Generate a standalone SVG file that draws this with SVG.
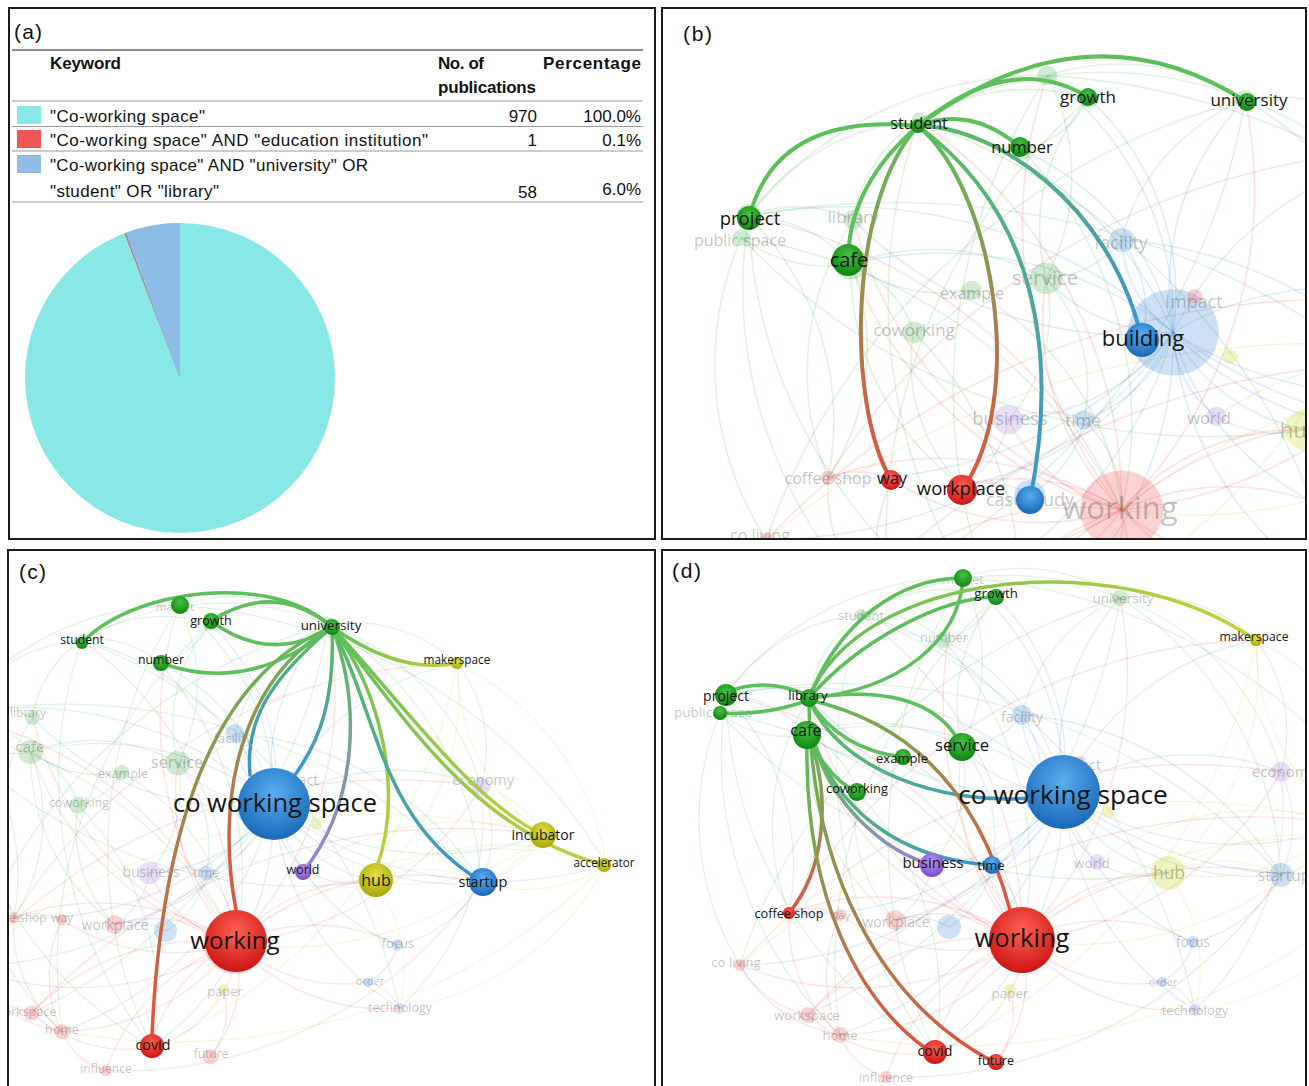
<svg xmlns="http://www.w3.org/2000/svg" width="1309" height="1086" viewBox="0 0 1309 1086">
<style>
.pl{font-family:"Liberation Sans",Arial,sans-serif;font-size:21px;fill:#111}
.tb{font-family:"Liberation Sans",Arial,sans-serif;font-size:17px;fill:#111}
.th{font-weight:bold}
.num{text-anchor:end}
.rule{stroke:#9a9a9a;stroke-width:1.2}
.frame{fill:none;stroke:#1a1a1a;stroke-width:2}
.fe path{fill:none;stroke-width:1.3;stroke-opacity:.17}
.eg{stroke:#4caf50}.er{stroke:#ef5350}.eb{stroke:#4a90d9}.ey{stroke:#c6cf30}.ep{stroke:#a57fdc}
.ng{fill:#4caf50;fill-opacity:.26}.nr{fill:#ef5350;fill-opacity:.26}.nb{fill:#4a90d9;fill-opacity:.28}.ny{fill:#cddc39;fill-opacity:.3}.np{fill:#a57fdc;fill-opacity:.26}
.lab{font-family:"Open Sans","DejaVu Sans",sans-serif;fill:#141414;text-anchor:middle}
.flab{font-family:"Open Sans","DejaVu Sans",sans-serif;fill:#444;fill-opacity:.33;text-anchor:middle}
.hl path{fill:none;stroke-linecap:round}
.sg{stroke:#5cbf5c}
</style>
<defs>
  <clipPath id="clipB"><rect x="663" y="9" width="642" height="529"/></clipPath>
  <clipPath id="clipC"><rect x="9" y="551" width="645" height="535"/></clipPath>
  <clipPath id="clipD"><rect x="663" y="551" width="642" height="535"/></clipPath>

  <!-- node shading -->
  <radialGradient id="rg" cx="50%" cy="35%" r="65%"><stop offset="0" stop-color="#45c245"/><stop offset="1" stop-color="#0e850e"/></radialGradient>
  <radialGradient id="rr" cx="50%" cy="35%" r="65%"><stop offset="0" stop-color="#ff6252"/><stop offset="1" stop-color="#cc1414"/></radialGradient>
  <radialGradient id="rb" cx="50%" cy="35%" r="65%"><stop offset="0" stop-color="#5aaef0"/><stop offset="1" stop-color="#1868b8"/></radialGradient>
  <radialGradient id="ry" cx="50%" cy="35%" r="65%"><stop offset="0" stop-color="#e0e040"/><stop offset="1" stop-color="#a6a60e"/></radialGradient>
  <radialGradient id="rp" cx="50%" cy="35%" r="65%"><stop offset="0" stop-color="#b892f0"/><stop offset="1" stop-color="#7a4cc8"/></radialGradient>

  <!-- two-colour link shading -->
  <linearGradient id="gGR"><stop offset="0" stop-color="#5cbf5c"/><stop offset="1" stop-color="#e2503f"/></linearGradient>
  <linearGradient id="gGB"><stop offset="0" stop-color="#5cbf5c"/><stop offset="1" stop-color="#3d92d2"/></linearGradient>
  <linearGradient id="gGY"><stop offset="0" stop-color="#5cbf5c"/><stop offset="1" stop-color="#c8cf3a"/></linearGradient>
  <linearGradient id="gGP"><stop offset="0" stop-color="#5cbf5c"/><stop offset="1" stop-color="#9b7ddb"/></linearGradient>

  <linearGradient id="bWay" href="#gGR" gradientUnits="userSpaceOnUse" x1="918" y1="126" x2="891" y2="480"/>
  <linearGradient id="bWp" href="#gGR" gradientUnits="userSpaceOnUse" x1="918" y1="126" x2="962" y2="490"/>
  <linearGradient id="bCs" href="#gGB" gradientUnits="userSpaceOnUse" x1="918" y1="126" x2="1030" y2="500"/>
  <linearGradient id="bBu" href="#gGB" gradientUnits="userSpaceOnUse" x1="918" y1="126" x2="1142" y2="340"/>

  <linearGradient id="cMs" href="#gGY" gradientUnits="userSpaceOnUse" x1="332" y1="627" x2="457" y2="663"/>
  <linearGradient id="cCw1" href="#gGB" gradientUnits="userSpaceOnUse" x1="332" y1="627" x2="250" y2="775"/>
  <linearGradient id="cCw2" href="#gGB" gradientUnits="userSpaceOnUse" x1="332" y1="627" x2="295" y2="775"/>
  <linearGradient id="cCv" href="#gGR" gradientUnits="userSpaceOnUse" x1="332" y1="627" x2="152" y2="1035"/>
  <linearGradient id="cWk" href="#gGR" gradientUnits="userSpaceOnUse" x1="332" y1="627" x2="236" y2="910"/>
  <linearGradient id="cWo" href="#gGP" gradientUnits="userSpaceOnUse" x1="332" y1="627" x2="303" y2="872"/>
  <linearGradient id="cHu" href="#gGY" gradientUnits="userSpaceOnUse" x1="332" y1="627" x2="376" y2="870"/>
  <linearGradient id="cSu" href="#gGB" gradientUnits="userSpaceOnUse" x1="332" y1="627" x2="482" y2="882"/>
  <linearGradient id="cIn" href="#gGY" gradientUnits="userSpaceOnUse" x1="332" y1="627" x2="543" y2="835"/>
  <linearGradient id="cAc" href="#gGY" gradientUnits="userSpaceOnUse" x1="332" y1="627" x2="604" y2="865"/>

  <linearGradient id="dMs" href="#gGY" gradientUnits="userSpaceOnUse" x1="809" y1="698" x2="1255" y2="640"/>
  <linearGradient id="dCw" href="#gGB" gradientUnits="userSpaceOnUse" x1="809" y1="700" x2="1030" y2="798"/>
  <linearGradient id="dWk" href="#gGR" gradientUnits="userSpaceOnUse" x1="809" y1="700" x2="1010" y2="910"/>
  <linearGradient id="dTi" href="#gGB" gradientUnits="userSpaceOnUse" x1="815" y1="745" x2="992" y2="865"/>
  <linearGradient id="dBs" href="#gGP" gradientUnits="userSpaceOnUse" x1="815" y1="745" x2="932" y2="865"/>
  <linearGradient id="dCf" href="#gGR" gradientUnits="userSpaceOnUse" x1="812" y1="745" x2="789" y2="913"/>
  <linearGradient id="dCv" href="#gGR" gradientUnits="userSpaceOnUse" x1="807" y1="745" x2="925" y2="1048"/>
  <linearGradient id="dFu" href="#gGR" gradientUnits="userSpaceOnUse" x1="809" y1="700" x2="990" y2="1060"/>

  <!-- dimmed keyword network (shared by the three map views) -->
  <g id="net">
    <g class="fe">
      <path class="eb" d="M1063 792A300 300 0 0 0 861 615"/>
      <path class="eb" d="M1063 792A260 260 0 0 0 963 578"/>
      <path class="eb" d="M1063 792A230 230 0 0 0 996 597"/>
      <path class="eb" d="M1063 792A230 230 0 0 1 1120 598"/>
      <path class="eb" d="M1063 792A220 220 0 0 0 943 640"/>
      <path class="eb" d="M1063 792A380 380 0 0 0 726 695"/>
      <path class="eb" d="M1063 792A300 300 0 0 1 809 698"/>
      <path class="eb" d="M1063 792A290 290 0 0 0 807 735"/>
      <path class="eb" d="M1063 792A130 130 0 0 1 962 747"/>
      <path class="eb" d="M1063 792A100 100 0 0 1 1022 715"/>
      <path class="eb" d="M1063 792A120 120 0 0 1 992 865"/>
      <path class="eb" d="M1063 792A260 260 0 0 0 1281 875"/>
      <path class="eb" d="M1063 792A150 150 0 0 0 1168 873"/>
      <path class="eb" d="M1063 792A310 310 0 0 0 1346 824"/>
      <path class="eb" d="M1063 792A240 240 0 0 1 1281 772"/>
      <path class="eb" d="M1063 792A170 170 0 0 1 932 865"/>
      <path class="eb" d="M1063 792A90 90 0 0 0 1097 862"/>
      <path class="eb" d="M1063 792A330 330 0 0 1 789 913"/>
      <path class="eb" d="M1063 792A240 240 0 0 1 895 920"/>
      <path class="eb" d="M1063 792A320 320 0 0 1 935 1052"/>
      <path class="eb" d="M1063 792A360 360 0 0 1 840 1035"/>
      <path class="eb" d="M1063 792A220 220 0 0 0 1193 942"/>
      <path class="eb" d="M1063 792A280 280 0 0 0 1195 1010"/>
      <path class="eb" d="M1063 792A270 270 0 0 1 1256 640"/>
      <path class="eb" d="M1063 792A380 380 0 0 0 1413 856"/>
      <path class="eb" d="M1063 792A400 400 0 0 1 740 965"/>
      <path class="er" d="M1022 940A330 330 0 0 1 807 735"/>
      <path class="er" d="M1022 940A260 260 0 0 0 789 913"/>
      <path class="er" d="M1022 940A210 210 0 0 1 840 915"/>
      <path class="er" d="M1022 940A150 150 0 0 0 895 920"/>
      <path class="er" d="M1022 940A310 310 0 0 1 740 965"/>
      <path class="er" d="M1022 940A250 250 0 0 0 808 1015"/>
      <path class="er" d="M1022 940A230 230 0 0 1 840 1035"/>
      <path class="er" d="M1022 940A160 160 0 0 0 935 1052"/>
      <path class="er" d="M1022 940A140 140 0 0 1 996 1062"/>
      <path class="er" d="M1022 940A220 220 0 0 0 886 1077"/>
      <path class="er" d="M1022 940A140 140 0 0 1 932 865"/>
      <path class="er" d="M1022 940A100 100 0 0 0 992 865"/>
      <path class="er" d="M1022 940A70 70 0 0 1 1010 990"/>
      <path class="er" d="M1022 940A180 180 0 0 1 1168 873"/>
      <path class="er" d="M1022 940A290 290 0 0 1 1281 875"/>
      <path class="er" d="M1022 940A230 230 0 0 1 962 747"/>
      <path class="er" d="M1022 940A420 420 0 0 0 726 695"/>
      <path class="er" d="M1022 940A350 350 0 0 1 809 698"/>
      <path class="er" d="M1022 940A170 170 0 0 0 1162 982"/>
      <path class="er" d="M1022 940A210 210 0 0 0 1195 1010"/>
      <path class="er" d="M1022 940A190 190 0 0 1 1193 942"/>
      <path class="er" d="M1022 940A390 390 0 0 0 1120 598"/>
      <path class="er" d="M1022 940A340 340 0 0 0 1281 772"/>
      <path class="er" d="M1022 940A400 400 0 0 0 861 615"/>
      <path class="er" d="M1022 940A400 400 0 0 1 963 578"/>
      <path class="eg" d="M726 695A110 110 0 0 1 807 735"/>
      <path class="eg" d="M720 713A110 110 0 0 0 807 735"/>
      <path class="eg" d="M809 698A120 120 0 0 1 861 615"/>
      <path class="eg" d="M807 735A180 180 0 0 1 962 747"/>
      <path class="eg" d="M807 735A120 120 0 0 0 903 757"/>
      <path class="eg" d="M726 695A180 180 0 0 1 861 615"/>
      <path class="eg" d="M963 578A290 290 0 0 0 726 695"/>
      <path class="eg" d="M996 597A80 80 0 0 1 943 640"/>
      <path class="eg" d="M861 615A100 100 0 0 1 943 640"/>
      <path class="eg" d="M1120 598A160 160 0 0 1 1256 640"/>
      <path class="eg" d="M1120 598A350 350 0 0 1 1281 875"/>
      <path class="eg" d="M1120 598A260 260 0 0 1 1281 772"/>
      <path class="eg" d="M857 792A300 300 0 0 1 935 1052"/>
      <path class="eg" d="M903 757A240 240 0 0 1 1022 940"/>
      <path class="eg" d="M809 698A240 240 0 0 0 789 913"/>
      <path class="eg" d="M962 747A140 140 0 0 1 992 865"/>
      <path class="eg" d="M857 792A150 150 0 0 0 895 920"/>
      <path class="eg" d="M726 695A600 600 0 0 1 1281 875"/>
      <path class="eg" d="M720 713A500 500 0 0 0 1168 873"/>
      <path class="eg" d="M861 615A540 540 0 0 1 1195 1010"/>
      <path class="eg" d="M963 578A560 560 0 0 1 1413 856"/>
      <path class="eg" d="M726 695A430 430 0 0 0 935 1052"/>
      <path class="eg" d="M1120 598A560 560 0 0 0 740 965"/>
      <path class="eg" d="M807 735A90 90 0 0 1 857 792"/>
      <path class="eg" d="M807 735A230 230 0 0 0 895 920"/>
      <path class="eg" d="M807 735A200 200 0 0 1 789 913"/>
      <path class="eg" d="M809 698A100 100 0 0 0 726 695"/>
      <path class="eg" d="M861 615A160 160 0 0 1 996 597"/>
      <path class="eg" d="M861 615A290 290 0 0 1 1120 598"/>
      <path class="eg" d="M963 578A180 180 0 0 1 1120 598"/>
      <path class="eg" d="M962 747A80 80 0 0 0 1022 715"/>
      <path class="eg" d="M962 747A140 140 0 0 1 932 865"/>
      <path class="eg" d="M903 757A70 70 0 0 1 857 792"/>
      <path class="eg" d="M726 695A250 250 0 0 1 789 913"/>
      <path class="eg" d="M720 713A280 280 0 0 0 740 965"/>
      <path class="eg" d="M726 695A390 390 0 0 0 840 1035"/>
      <path class="eg" d="M963 578A190 190 0 0 1 962 747"/>
      <path class="eg" d="M996 597A170 170 0 0 0 962 747"/>
      <path class="eg" d="M943 640A340 340 0 0 1 1022 940"/>
      <path class="eg" d="M861 615A470 470 0 0 0 935 1052"/>
      <path class="eg" d="M720 713A410 410 0 0 1 1022 940"/>
      <path class="eg" d="M963 578A500 500 0 0 0 935 1052"/>
      <path class="eg" d="M996 597A500 500 0 0 0 840 1035"/>
      <path class="eg" d="M1120 598A560 560 0 0 1 808 1015"/>
      <path class="eg" d="M1120 598A170 170 0 0 0 1022 715"/>
      <path class="eb" d="M1022 715A100 100 0 0 1 1038 798"/>
      <path class="eb" d="M992 865A90 90 0 0 1 949 927"/>
      <path class="eb" d="M1193 942A130 130 0 0 0 1281 875"/>
      <path class="eb" d="M949 927A70 70 0 0 0 895 920"/>
      <path class="ep" d="M932 865A70 70 0 0 1 992 865"/>
      <path class="ep" d="M1097 862A90 90 0 0 0 1168 873"/>
      <path class="ep" d="M1281 772A120 120 0 0 1 1281 875"/>
      <path class="ep" d="M1281 772A150 150 0 0 0 1256 640"/>
      <path class="ep" d="M1195 1010A50 50 0 0 0 1162 982"/>
      <path class="er" d="M789 913A150 150 0 0 0 840 1035"/>
      <path class="er" d="M740 965A140 140 0 0 0 840 1035"/>
      <path class="er" d="M808 1015A150 150 0 0 0 935 1052"/>
      <path class="er" d="M740 965A600 600 0 0 1 1281 772"/>
      <path class="er" d="M789 913A560 560 0 0 1 1256 640"/>
      <path class="er" d="M808 1015A600 600 0 0 1 1346 824"/>
      <path class="er" d="M886 1077A460 460 0 0 0 1281 875"/>
      <path class="er" d="M1010 990A120 120 0 0 1 935 1052"/>
      <path class="er" d="M996 1062A80 80 0 0 0 1010 990"/>
      <path class="er" d="M886 1077A70 70 0 0 1 840 1035"/>
      <path class="er" d="M740 965A100 100 0 0 0 808 1015"/>
      <path class="er" d="M789 913A60 60 0 0 1 840 915"/>
      <path class="er" d="M840 915A140 140 0 0 0 840 1035"/>
      <path class="ep" d="M932 865A80 80 0 0 1 895 920"/>
      <path class="ep" d="M1281 772A280 280 0 0 1 1195 1010"/>
      <path class="ey" d="M1168 873A130 130 0 0 1 1281 875"/>
      <path class="ey" d="M1168 873A210 210 0 0 0 1346 824"/>
      <path class="ey" d="M1168 873A270 270 0 0 1 1413 856"/>
      <path class="ey" d="M1281 875A150 150 0 0 0 1413 856"/>
      <path class="ey" d="M1256 640A270 270 0 0 1 1168 873"/>
      <path class="ey" d="M1413 856A420 420 0 0 0 1022 940"/>
      <path class="ey" d="M1346 824A360 360 0 0 1 1022 940"/>
      <path class="ey" d="M1413 856A290 290 0 0 0 1256 640"/>
      <path class="ey" d="M1346 824A230 230 0 0 1 1256 640"/>
      <path class="ey" d="M1346 824A100 100 0 0 1 1281 875"/>
      <path class="ey" d="M1346 824A100 100 0 0 0 1281 772"/>
      <path class="ey" d="M1413 856A290 290 0 0 1 1195 1010"/>
      <path class="ey" d="M1346 824A280 280 0 0 0 1097 862"/>
      <path class="ey" d="M1168 873A160 160 0 0 1 1195 1010"/>
      <path class="ey" d="M1256 640A560 560 0 0 1 935 1052"/>
      <path class="ey" d="M1413 856A640 640 0 0 1 840 1035"/>
      <path class="ey" d="M1346 824A660 660 0 0 0 740 965"/>
      <path class="eb" d="M1193 942A60 60 0 0 1 1162 982"/>
      <path class="eb" d="M1022 715A330 330 0 0 1 1281 875"/>
    </g>
    <g>
      <circle class="ng" cx="963" cy="578" r="8"/>
      <circle class="ng" cx="996" cy="597" r="8"/>
      <circle class="ng" cx="1120" cy="598" r="8"/>
      <circle class="ng" cx="861" cy="615" r="6"/>
      <circle class="ng" cx="943" cy="640" r="8"/>
      <circle class="ng" cx="726" cy="695" r="10"/>
      <circle class="ng" cx="809" cy="698" r="8"/>
      <circle class="ng" cx="720" cy="713" r="7"/>
      <circle class="ng" cx="807" cy="735" r="13"/>
      <circle class="ng" cx="962" cy="747" r="13"/>
      <circle class="ng" cx="903" cy="757" r="8"/>
      <circle class="ng" cx="857" cy="792" r="9"/>
      <circle class="nb" cx="1022" cy="715" r="10"/>
      <circle class="nb" cx="1063" cy="792" r="36"/>
      <circle class="nb" cx="1038" cy="798" r="14"/>
      <circle class="nb" cx="992" cy="865" r="8"/>
      <circle class="nb" cx="949" cy="927" r="12"/>
      <circle class="nb" cx="1281" cy="875" r="12"/>
      <circle class="nb" cx="1193" cy="942" r="6"/>
      <circle class="nb" cx="1162" cy="982" r="5"/>
      <circle class="ny" cx="1256" cy="640" r="6"/>
      <circle class="ny" cx="1168" cy="873" r="17"/>
      <circle class="ny" cx="1346" cy="824" r="13"/>
      <circle class="ny" cx="1413" cy="856" r="7"/>
      <circle class="ny" cx="1108" cy="812" r="6"/>
      <circle class="ny" cx="1010" cy="990" r="6"/>
      <circle class="np" cx="932" cy="865" r="12"/>
      <circle class="np" cx="1097" cy="862" r="8"/>
      <circle class="np" cx="1281" cy="772" r="10"/>
      <circle class="np" cx="1195" cy="1010" r="6"/>
      <circle class="nr" cx="1022" cy="940" r="33"/>
      <circle class="nr" cx="789" cy="913" r="6"/>
      <circle class="nr" cx="840" cy="915" r="6"/>
      <circle class="nr" cx="895" cy="920" r="10"/>
      <circle class="nr" cx="740" cy="965" r="6"/>
      <circle class="nr" cx="808" cy="1015" r="8"/>
      <circle class="nr" cx="840" cy="1035" r="8"/>
      <circle class="nr" cx="935" cy="1052" r="12"/>
      <circle class="nr" cx="996" cy="1062" r="8"/>
      <circle class="nr" cx="886" cy="1077" r="6"/>
      <circle class="nr" cx="1080" cy="762" r="6"/>
    </g>
  </g>
</defs>

<rect width="1309" height="1086" fill="#fff"/>

<!-- (a) search counts table and pie -->
<g id="panel-a">
  <text class="pl" x="14" y="39" textLength="28">(a)</text>
  <line x1="12" y1="50" x2="643" y2="50" stroke="#666" stroke-width="1.4"/>
  <text class="tb th" x="50" y="69" textLength="71">Keyword</text>
  <text class="tb th" x="438" y="69" textLength="46">No. of</text>
  <text class="tb th" x="438" y="93" textLength="98">publications</text>
  <text class="tb th" x="543" y="69" textLength="98">Percentage</text>
  <line class="rule" x1="12" y1="101" x2="643" y2="101"/>
  <g id="row-1">
    <rect x="17" y="106" width="24" height="18" fill="#87e8e6"/>
    <text class="tb" x="50" y="122" textLength="155">"Co-working space"</text>
    <text class="tb num" x="537" y="122">970</text>
    <text class="tb num" x="641" y="122">100.0%</text>
  </g>
  <line class="rule" x1="12" y1="126.5" x2="643" y2="126.5"/>
  <g id="row-2">
    <rect x="17" y="130" width="24" height="18" fill="#f05656"/>
    <text class="tb" x="50" y="146" textLength="378">"Co-working space" AND "education institution"</text>
    <text class="tb num" x="537" y="146">1</text>
    <text class="tb num" x="641" y="146">0.1%</text>
  </g>
  <line class="rule" x1="12" y1="151" x2="643" y2="151"/>
  <g id="row-3">
    <rect x="17" y="155" width="24" height="18" fill="#8fbde8"/>
    <text class="tb" x="50" y="171" textLength="318">"Co-working space" AND "university" OR</text>
    <text class="tb" x="50" y="197" textLength="169">"student" OR "library"</text>
    <text class="tb num" x="537" y="198">58</text>
    <text class="tb num" x="641" y="195">6.0%</text>
  </g>
  <line class="rule" x1="12" y1="202" x2="643" y2="202"/>
  <g id="pie">
    <circle cx="180" cy="378" r="155" fill="#87e8e5"/>
    <path d="M180 378L180 223A155 155 0 0 0 125.5 232.9Z" fill="#8bbde6"/>
    <path d="M180 378L125.5 232.9A155 155 0 0 0 124.4 233.3Z" fill="#d46060"/>
  </g>
</g>

<!-- (b) student-centred links -->
<g id="panel-b" clip-path="url(#clipB)">
  <use href="#net" transform="translate(-166 -618) scale(1.26 1.2)"/>
  <g id="b-faint-labels">
    <text class="flab" x="853" y="223" font-size="17">library</text>
    <text class="flab" x="740" y="246" font-size="16">public space</text>
    <text class="flab" x="1121" y="249" font-size="18">facility</text>
    <text class="flab" x="1045" y="285" font-size="20.5">service</text>
    <text class="flab" x="972" y="299" font-size="16">example</text>
    <text class="flab" x="1194" y="308" font-size="18">impact</text>
    <text class="flab" x="914" y="336" font-size="17">coworking</text>
    <text class="flab" x="1010" y="425" font-size="18.5">business</text>
    <text class="flab" x="1083" y="426" font-size="17">time</text>
    <text class="flab" x="1209" y="424" font-size="16.5">world</text>
    <text class="flab" x="1300" y="438" font-size="22">hub</text>
    <text class="flab" x="828" y="484" font-size="16">coffee shop</text>
    <text class="flab" x="1030" y="506" font-size="18">case study</text>
    <text class="flab" x="1120" y="519" font-size="31">working</text>
    <text class="flab" x="760" y="541" font-size="16">co living</text>
  </g>
  <g id="b-connectors" class="hl" stroke-width="4">
    <path class="sg" d="M918 126Q776 112 749 218"/>
    <path class="sg" d="M918 126Q849 185 848 260"/>
    <path class="sg" d="M918 126Q1010 50 1088 97"/>
    <path class="sg" d="M918 126Q1087 0 1247 102"/>
    <path class="sg" d="M918 126Q971 105 1020 147"/>
    <path stroke="url(#bWay)" d="M918 126C850 200 845 400 891 480"/>
    <path stroke="url(#bWp)" d="M918 126C995 190 1027 400 962 490"/>
    <path stroke="url(#bCs)" d="M918 126C1060 230 1050 400 1030 500"/>
    <path stroke="url(#bBu)" d="M918 126C990 125 1110 200 1142 340"/>
  </g>
  <g id="b-student"><circle cx="918" cy="126" r="7" fill="url(#rg)"/><text class="lab" x="919" y="129" font-size="16">student</text></g>
  <g id="b-growth"><circle cx="1088" cy="97" r="9" fill="url(#rg)"/><text class="lab" x="1088" y="103" font-size="17">growth</text></g>
  <g id="b-university"><circle cx="1247" cy="102" r="9" fill="url(#rg)"/><text class="lab" x="1249" y="106" font-size="17">university</text></g>
  <g id="b-number"><circle cx="1020" cy="147" r="10" fill="url(#rg)"/><text class="lab" x="1022" y="153" font-size="16.5">number</text></g>
  <g id="b-project"><circle cx="749" cy="218" r="12" fill="url(#rg)"/><text class="lab" x="750" y="225" font-size="18.5">project</text></g>
  <g id="b-cafe"><circle cx="848" cy="260" r="16" fill="url(#rg)"/><text class="lab" x="849" y="267" font-size="20">cafe</text></g>
  <g id="b-building"><circle cx="1142" cy="340" r="17" fill="url(#rb)"/><text class="lab" x="1143" y="346" font-size="22">building</text></g>
  <g id="b-way"><circle cx="891" cy="480" r="10" fill="url(#rr)"/><text class="lab" x="892" y="484" font-size="16.5">way</text></g>
  <g id="b-workplace"><circle cx="962" cy="490" r="15" fill="url(#rr)"/><text class="lab" x="961" y="495" font-size="18.5">workplace</text></g>
  <g id="b-case-study"><circle cx="1030" cy="500" r="14" fill="url(#rb)"/></g>
</g>
<text class="pl" x="683" y="41" textLength="29">(b)</text>

<!-- (c) university-centred links -->
<g id="panel-c" clip-path="url(#clipC)">
  <use href="#net" transform="translate(-736 67) scale(0.95 0.932)"/>
  <g id="c-faint-labels">
    <text class="flab" x="175" y="611" font-size="11.5">market</text>
    <text class="flab" x="28" y="717" font-size="12">library</text>
    <text class="flab" x="30" y="752" font-size="15">cafe</text>
    <text class="flab" x="233" y="743" font-size="13">facility</text>
    <text class="flab" x="177" y="768" font-size="16">service</text>
    <text class="flab" x="123" y="778" font-size="12.5">example</text>
    <text class="flab" x="296" y="785" font-size="14">impact</text>
    <text class="flab" x="483" y="785" font-size="14.5">economy</text>
    <text class="flab" x="79" y="807" font-size="12.5">coworking</text>
    <text class="flab" x="151" y="877" font-size="14">business</text>
    <text class="flab" x="206" y="877" font-size="12.5">time</text>
    <text class="flab" x="14" y="922" font-size="12">coffee shop</text>
    <text class="flab" x="62" y="922" font-size="12">way</text>
    <text class="flab" x="115" y="930" font-size="14">workplace</text>
    <text class="flab" x="398" y="948" font-size="13">focus</text>
    <text class="flab" x="370" y="985" font-size="11">order</text>
    <text class="flab" x="225" y="996" font-size="13">paper</text>
    <text class="flab" x="400" y="1012" font-size="12.5">technology</text>
    <text class="flab" x="25" y="1016" font-size="12.5">workspace</text>
    <text class="flab" x="62" y="1034" font-size="12.5">home</text>
    <text class="flab" x="211" y="1058" font-size="12">future</text>
    <text class="flab" x="106" y="1073" font-size="12">influence</text>
  </g>
  <g id="c-connectors" class="hl" stroke-width="3.5">
    <path class="sg" d="M82 643C130 590 270 570 332 627"/>
    <path class="sg" d="M211 621Q275 580 332 627"/>
    <path class="sg" d="M211 621Q270 665 332 627"/>
    <path class="sg" d="M161 663Q250 695 332 627"/>
    <path stroke="url(#cMs)" d="M332 627Q400 675 457 663"/>
    <path stroke="url(#cCw1)" d="M332 627C270 680 245 720 250 775"/>
    <path stroke="url(#cCw2)" d="M332 627C335 700 320 740 295 775"/>
    <path stroke="url(#cCv)" d="M332 627C200 680 160 860 152 1035"/>
    <path stroke="url(#cWk)" d="M332 627C240 680 215 800 236 910"/>
    <path stroke="url(#cWo)" d="M332 627C360 700 360 800 303 872"/>
    <path stroke="url(#cHu)" d="M332 627C380 690 405 790 376 870"/>
    <path stroke="url(#cSu)" d="M332 627C380 720 380 820 482 882"/>
    <path stroke="url(#cIn)" d="M332 627C400 700 470 800 543 835"/>
    <path stroke="url(#cAc)" d="M332 627C400 710 470 830 604 865"/>
  </g>
  <g id="c-market"><circle cx="180" cy="605" r="9" fill="url(#rg)"/></g>
  <g id="c-growth"><circle cx="211" cy="621" r="8" fill="url(#rg)"/><text class="lab" x="211" y="625" font-size="12.6">growth</text></g>
  <g id="c-university"><circle cx="332" cy="627" r="8" fill="url(#rg)"/><text class="lab" x="331" y="630" font-size="13.4">university</text></g>
  <g id="c-student"><circle cx="82" cy="643" r="6" fill="url(#rg)"/><text class="lab" x="82" y="644" font-size="12.2">student</text></g>
  <g id="c-number"><circle cx="161" cy="663" r="8" fill="url(#rg)"/><text class="lab" x="161" y="664" font-size="12.3">number</text></g>
  <g id="c-makerspace"><circle cx="457" cy="663" r="6" fill="url(#ry)"/><text class="lab" x="457" y="664" font-size="11.8">makerspace</text></g>
  <g id="c-co-working-space"><circle cx="274" cy="804" r="36" fill="url(#rb)"/><text class="lab" x="275" y="812" font-size="25.5">co working space</text></g>
  <g id="c-world"><circle cx="303" cy="872" r="8" fill="url(#rp)"/><text class="lab" x="303" y="874" font-size="12.4">world</text></g>
  <g id="c-hub"><circle cx="376" cy="880" r="17" fill="url(#ry)"/><text class="lab" x="376" y="886" font-size="16">hub</text></g>
  <g id="c-startup"><circle cx="483" cy="882" r="14" fill="url(#rb)"/><text class="lab" x="483" y="887" font-size="14.5">startup</text></g>
  <g id="c-incubator"><circle cx="543" cy="835" r="13" fill="url(#ry)"/><text class="lab" x="543" y="840" font-size="14">incubator</text></g>
  <g id="c-accelerator"><circle cx="604" cy="865" r="7" fill="url(#ry)"/><text class="lab" x="604" y="867" font-size="11.7">accelerator</text></g>
  <g id="c-working"><circle cx="236" cy="941" r="31" fill="url(#rr)"/><text class="lab" x="235" y="949" font-size="24">working</text></g>
  <g id="c-covid"><circle cx="152" cy="1046" r="12" fill="url(#rr)"/><text class="lab" x="153" y="1050" font-size="14.3">covid</text></g>
</g>
<text class="pl" x="19" y="579" textLength="27">(c)</text>

<!-- (d) library-centred links -->
<g id="panel-d" clip-path="url(#clipD)">
  <use href="#net"/>
  <g id="d-faint-labels">
    <text class="flab" x="963" y="584" font-size="12.5">market</text>
    <text class="flab" x="861" y="620" font-size="12.8">student</text>
    <text class="flab" x="1123" y="603" font-size="13.5">university</text>
    <text class="flab" x="944" y="642" font-size="12.8">number</text>
    <text class="flab" x="713" y="717" font-size="13.5">public space</text>
    <text class="flab" x="1022" y="722" font-size="14">facility</text>
    <text class="flab" x="1078" y="770" font-size="14.5">impact</text>
    <text class="flab" x="1284" y="777" font-size="15">economy</text>
    <text class="flab" x="1092" y="868" font-size="13.5">world</text>
    <text class="flab" x="1169" y="879" font-size="17.5">hub</text>
    <text class="flab" x="1284" y="881" font-size="15.5">startup</text>
    <text class="flab" x="840" y="919" font-size="11.5">way</text>
    <text class="flab" x="896" y="927" font-size="14.2">workplace</text>
    <text class="flab" x="1193" y="947" font-size="13.6">focus</text>
    <text class="flab" x="736" y="967" font-size="13.2">co living</text>
    <text class="flab" x="1163" y="986" font-size="11.2">order</text>
    <text class="flab" x="1010" y="998" font-size="13.4">paper</text>
    <text class="flab" x="1195" y="1015" font-size="13">technology</text>
    <text class="flab" x="807" y="1020" font-size="13.2">workspace</text>
    <text class="flab" x="840" y="1040" font-size="13">home</text>
    <text class="flab" x="886" y="1082" font-size="12.7">influence</text>
  </g>
  <g id="d-connectors" class="hl" stroke-width="3.5">
    <path class="sg" d="M726 692Q768 676 809 696"/>
    <path class="sg" d="M720 713Q765 716 809 700"/>
    <path class="sg" d="M809 698C840 620 900 578 963 578"/>
    <path class="sg" d="M809 698C860 640 940 598 996 597"/>
    <path class="sg" d="M809 698C900 690 960 640 963 578"/>
    <path stroke="url(#dMs)" d="M809 698C860 570 1120 544 1255 640"/>
    <path class="sg" d="M809 698Q930 680 962 747"/>
    <path class="sg" d="M809 700Q840 750 903 757"/>
    <path class="sg" d="M807 735Q830 780 857 792"/>
    <path stroke="url(#dCw)" d="M809 700C840 770 940 805 1030 798"/>
    <path stroke="url(#dWk)" d="M809 700C900 720 975 780 1010 910"/>
    <path stroke="url(#dTi)" d="M815 745C840 810 900 860 992 865"/>
    <path stroke="url(#dBs)" d="M815 745C830 800 880 850 932 865"/>
    <path stroke="url(#dCf)" d="M812 745C830 800 825 870 789 913"/>
    <path stroke="url(#dCv)" d="M807 745C805 900 860 1000 925 1048"/>
    <path stroke="url(#dFu)" d="M809 700C810 870 880 1000 990 1060"/>
  </g>
  <g id="d-market"><circle cx="963" cy="578" r="9" fill="url(#rg)"/></g>
  <g id="d-growth"><circle cx="996" cy="597" r="8" fill="url(#rg)"/><text class="lab" x="996" y="598" font-size="13.2">growth</text></g>
  <g id="d-makerspace"><circle cx="1256" cy="640" r="6" fill="url(#ry)"/><text class="lab" x="1254" y="641" font-size="12.2">makerspace</text></g>
  <g id="d-public-space"><circle cx="720" cy="713" r="7" fill="url(#rg)"/></g>
  <g id="d-project"><circle cx="726" cy="695" r="11" fill="url(#rg)"/><text class="lab" x="726" y="701" font-size="14">project</text></g>
  <g id="d-library"><circle cx="809" cy="698" r="9" fill="url(#rg)"/><text class="lab" x="808" y="700" font-size="13.2">library</text></g>
  <g id="d-cafe"><circle cx="807" cy="735" r="14" fill="url(#rg)"/><text class="lab" x="806" y="736" font-size="16.2">cafe</text></g>
  <g id="d-service"><circle cx="962" cy="747" r="14" fill="url(#rg)"/><text class="lab" x="962" y="751" font-size="16.7">service</text></g>
  <g id="d-example"><circle cx="903" cy="757" r="8" fill="url(#rg)"/><text class="lab" x="902" y="763" font-size="13">example</text></g>
  <g id="d-coworking"><circle cx="857" cy="792" r="9" fill="url(#rg)"/><text class="lab" x="857" y="793" font-size="12.9">coworking</text></g>
  <g id="d-co-working-space"><circle cx="1063" cy="792" r="37" fill="url(#rb)"/><text class="lab" x="1063" y="804" font-size="26.2">co working space</text></g>
  <g id="d-business"><circle cx="932" cy="865" r="12" fill="url(#rp)"/><text class="lab" x="933" y="868" font-size="15">business</text></g>
  <g id="d-time"><circle cx="992" cy="865" r="9" fill="url(#rb)"/><text class="lab" x="991" y="870" font-size="13">time</text></g>
  <g id="d-coffee-shop"><circle cx="789" cy="913" r="6" fill="url(#rr)"/><text class="lab" x="789" y="918" font-size="12.7">coffee shop</text></g>
  <g id="d-working"><circle cx="1022" cy="940" r="33" fill="url(#rr)"/><text class="lab" x="1022" y="947" font-size="25.5">working</text></g>
  <g id="d-covid"><circle cx="935" cy="1052" r="12" fill="url(#rr)"/><text class="lab" x="935" y="1056" font-size="14.3">covid</text></g>
  <g id="d-future"><circle cx="996" cy="1062" r="8" fill="url(#rr)"/><text class="lab" x="996" y="1065" font-size="12.6">future</text></g>
</g>
<text class="pl" x="672" y="578" textLength="29">(d)</text>

<!-- panel frames -->
<g id="frames">
  <rect class="frame" x="9" y="8" width="646" height="531"/>
  <rect class="frame" x="662" y="8" width="644" height="531"/>
  <rect class="frame" x="8" y="550" width="647" height="545"/>
  <rect class="frame" x="662" y="550" width="644" height="545"/>
</g>
</svg>
